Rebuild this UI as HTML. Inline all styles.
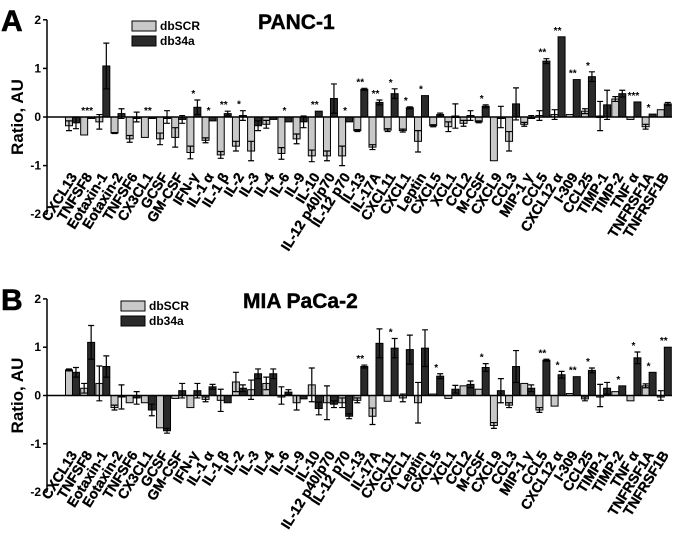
<!DOCTYPE html>
<html><head><meta charset="utf-8"><style>
body{margin:0;background:#fff;}
svg{display:block;font-family:"Liberation Sans",Arial,sans-serif;font-weight:bold;}
</style></head><body>
<svg id="chart" width="677" height="537" viewBox="0 0 677 537" xmlns="http://www.w3.org/2000/svg"></svg>
<script>
const categories=["CXCL13","TNFSF8","Eotaxin-1","Eotaxin-2","TNFSF6","CX3CL1","GCSF","GM-CSF","IFN-γ","IL-1 α","IL-1 β","IL-2","IL-3","IL-4","IL-6","IL-9","IL-10","IL-12 p40/p70","IL-12 p70","IL-13","IL-17A","CXCL11","CXCL1","Leptin","CXCL5","XCL1","CCL2","M-CSF","CXCL9","CCL3","MIP-1 γ","CCL5","CXCL12 α","I-309","CCL25","TIMP-1","TIMP-2","TNF α","TNFRSF1A","TNFRSF1B"];
const yTicks=[2,1,0,-1,-2];
const panc_scr=[-0.18,-0.37,-0.1,-0.33,-0.45,-0.42,-0.45,-0.42,-0.73,-0.48,-0.78,-0.6,-0.7,-0.15,-0.75,-0.45,-0.8,-0.8,-0.8,-0.28,-0.62,-0.27,-0.28,-0.5,-0.18,-0.2,-0.13,-0.1,-0.9,-0.5,-0.15,0.03,0.05,0.05,0.12,0.02,0.37,-0.05,-0.2,0.15];
const panc_scr_err=[0.1,0,0.15,0.01,0.07,0,0.12,0.2,0.13,0.05,0.07,0.1,0.2,0.08,0.12,0.1,0.12,0.1,0.2,0.02,0.05,0.03,0.03,0.22,0.02,0.1,0.06,0.02,0,0.2,0.04,0.1,0.1,0,0.05,0.3,0.05,0,0.05,0];
const panc_34a=[-0.12,0,1.05,0.07,0,-0.03,0,-0.05,0.2,-0.08,0.07,0.03,-0.18,-0.05,-0.1,-0.1,0.12,0.38,-0.1,0.57,0.3,0.48,0.19,0.44,0.05,0.02,0.03,0.22,0,0.27,0,1.15,1.65,0.77,0.83,0.25,0.48,0.31,0.06,0.27];
const panc_34a_err=[0.12,0,0.47,0.1,0.1,0,0.13,0.08,0.15,0,0.05,0.1,0.1,0,0,0.12,0,0.3,0,0.02,0.05,0.1,0.02,0,0.03,0.25,0.1,0.03,0.22,0.33,0.03,0.05,0,0,0.1,0.3,0.07,0,0,0.03];
const panc_sig=["","***","","","","**","","","*","*","**","*","","","*","","**","","*","**","**","*","*","*","","","","*","","","","**","**","**","*","","","***","*",""];
const mia_scr=[0.53,0.15,0.25,-0.25,-0.15,-0.15,-0.67,-0.06,-0.25,-0.08,-0.1,0.28,0.12,0.25,0,-0.15,0.22,-0.15,-0.15,-0.1,-0.43,-0.12,-0.05,-0.15,0.03,-0.06,0.2,0.13,-0.62,-0.2,0.25,-0.3,-0.22,0.04,-0.07,0,0.08,-0.11,0.2,0];
const mia_scr_err=[0.02,0.1,0.36,0.05,0,0,0,0,0,0.05,0.23,0.2,0.2,0.13,0.18,0.15,0.35,0.35,0.1,0.05,0.17,0,0.08,0.42,0,0,0,0,0.06,0.05,0,0.05,0,0,0.04,0.23,0,0,0.04,0.1];
const mia_34a=[0.48,1.1,0.6,-0.03,-0.05,-0.3,-0.73,0.1,0.1,0.18,-0.15,0.15,0.45,0.45,0.07,-0.07,-0.27,-0.18,-0.43,0.6,1.08,0.98,0.95,0.98,0.4,0.13,0.23,0.58,0.1,0.6,0.15,0.73,0.43,0.39,0.52,0.15,0.2,0.78,0.48,1.0];
const mia_34a_err=[0.1,0.35,0.22,0.25,0.13,0.12,0.05,0.15,0.15,0.05,0,0.07,0.1,0.1,0.05,0,0.13,0.07,0.05,0.03,0.3,0.2,0.3,0.38,0.05,0.08,0.07,0.08,0.25,0.33,0.07,0.02,0.07,0,0.05,0.12,0,0.12,0,0];
const mia_sig=["","","","","","","","","","","","","","","","","","","","**","","*","","","*","","","*","","","","**","*","**","*","","*","*","*","**"];

const svg=document.getElementById('chart');
const NS="http://www.w3.org/2000/svg";
function el(t,a,txt){const e=document.createElementNS(NS,t);for(const k in a)e.setAttribute(k,a[k]);if(txt!==undefined)e.textContent=txt;svg.appendChild(e);return e;}

function panel(letter,title,zeroY,unit,scr,scrErr,a34,a34Err,sig,legY,legX,titleX,key){
  const x0=65,x1=672,axisX=47;
  const cw=(x1-x0)/categories.length;
  const yS=v=>zeroY-v*unit;
  const xS=i=>x0+i*cw;
  let t=el('text',{x:1,y:yS(2)+11,'font-size':30,stroke:'#000','stroke-width':0.6},letter);
  
  t=el('text',{x:titleX,y:yS(2)+9,'font-size':21,stroke:'#000','stroke-width':0.4},title);
  
  let ax=el('line',{x1:axisX,x2:axisX,y1:yS(2),y2:yS(-2),stroke:'#000','stroke-width':1.5});
  
  yTicks.forEach(v=>{
    let tk=el('line',{x1:axisX-4,x2:axisX,y1:yS(v),y2:yS(v),stroke:'#000','stroke-width':1.5});
    
    let lb=el('text',{x:axisX-6,y:yS(v)+4,'text-anchor':'end','font-size':12},String(v));
    
  });
  let yt=el('text',{x:0,y:0,'font-size':17,'text-anchor':'middle',transform:`translate(23,${zeroY}) rotate(-90)`},'Ratio, AU');
  
  const bw=cw*0.46;
  categories.forEach((c,i)=>{
    const cx=xS(i);
    const series=[[scr[i],scrErr[i],'#c8c8c8',cx+0.5,'bar-dbscr'],[a34[i],a34Err[i],'#2a2a2a',cx+0.5+bw,'bar-db34a']];
    series.forEach(([v,e,col,bx,nm])=>{
      const y=Math.min(yS(v),zeroY),h=Math.max(Math.abs(yS(v)-zeroY),1.5);
      let r=el('rect',{x:bx,y:y,width:bw,height:h,fill:col,stroke:'#000','stroke-width':1});
      
      if(e>0){
        const mx=bx+bw/2;
        let er=el('path',{d:`M${mx},${yS(v+e)}V${yS(v-e)}M${mx-3},${yS(v+e)}H${mx+3}M${mx-3},${yS(v-e)}H${mx+3}`,stroke:'#000','stroke-width':1.2,fill:'none'});
        
      }
    });
    if(sig[i]){
      const top=Math.max(a34[i]+a34Err[i],0,scr[i]+scrErr[i]);
      let s=el('text',{x:cx+bw,y:yS(top)-3,'text-anchor':'middle','font-size':10},sig[i]);
      
    }
    let lb=el('text',{x:0,y:0,'font-size':14,stroke:'#000','stroke-width':0.35,'text-anchor':'end',transform:`translate(${cx+cw/2+5},${yS(-1)+11}) rotate(-58)`},c);
    
  });
  let zl=el('line',{x1:axisX,x2:x1,y1:zeroY,y2:zeroY,stroke:'#000','stroke-width':1.5});
  
  let l1=el('rect',{x:legX,y:legY,width:24,height:10,fill:'#c8c8c8',stroke:'#000','stroke-width':1});
  
  let l2=el('rect',{x:legX,y:legY+15,width:24,height:10,fill:'#2a2a2a',stroke:'#000','stroke-width':1});
  
  let lt1=el('text',{x:legX+28,y:legY+9,'font-size':12},'dbSCR');
  
  let lt2=el('text',{x:legX+28,y:legY+24,'font-size':12},'db34a');
  
}
panel('A','PANC-1',117,48.6,panc_scr,panc_scr_err,panc_34a,panc_34a_err,panc_sig,21,132,258,'a');
panel('B','MIA PaCa-2',395.5,48.3,mia_scr,mia_scr_err,mia_34a,mia_34a_err,mia_sig,301,121,243,'b');
</script>
</body></html>
